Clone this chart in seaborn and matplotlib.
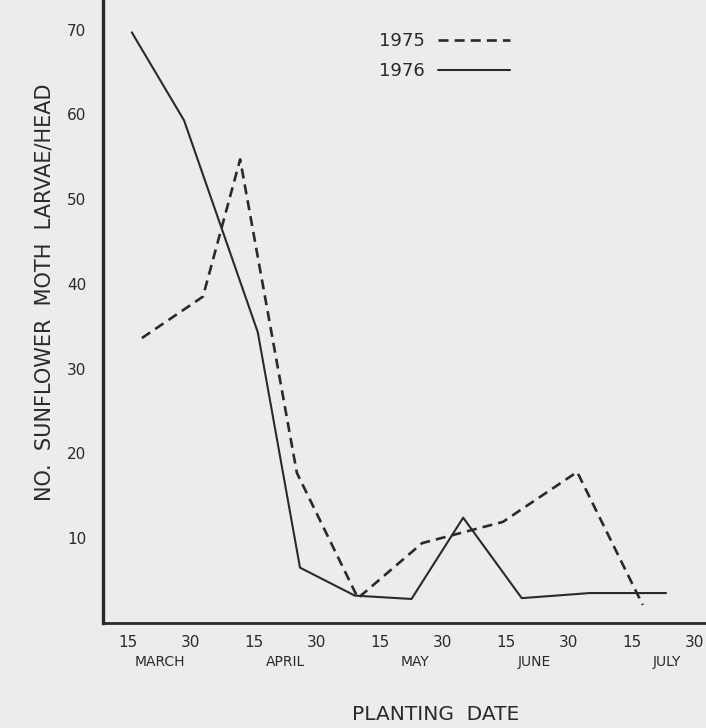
import matplotlib
matplotlib.use("Agg")
import matplotlib.pyplot as plt
import seaborn as sns
import pandas as pd
from matplotlib import transforms

# ---- data (x in half-month steps: 0 = Mar 15, 1 = Mar 30, 2 = Apr 15, ...) ----
tick_labels = ["15", "30", "15", "30", "15", "30", "15", "30", "15", "30"]
months = ["MARCH", "APRIL", "MAY", "JUNE", "JULY"]
month_pos = [0.5, 2.5, 4.55, 6.45, 8.55]

x_1975 = [0.22, 1.19, 1.78, 2.68, 3.65, 4.67, 5.95, 7.13, 8.17]
y_1975 = [33.6, 38.5, 54.7, 17.7, 2.9, 9.4, 11.9, 17.8, 2.1]

x_1976 = [0.06, 0.89, 2.06, 2.73, 3.60, 4.50, 5.32, 6.25, 7.33, 8.54]
y_1976 = [69.7, 59.3, 34.3, 6.5, 3.2, 2.8, 12.4, 2.9, 3.5, 3.5]

df = pd.concat([
    pd.DataFrame({"x": x_1975, "y": y_1975, "year": "1975"}),
    pd.DataFrame({"x": x_1976, "y": y_1976, "year": "1976"}),
], ignore_index=True)

sns.set_style("white")
plt.rcParams["font.family"] = ["DejaVu Sans"]

bg = "#ececea"
ink = "#2a2a2a"

fig = plt.figure(figsize=(7.06, 7.28), dpi=100, facecolor=bg)
W, H = 706, 728
ax = fig.add_axes([103 / W, 1 - 622.7 / H, 1 - 103 / W, 622.7 / H])
ax.set_facecolor(bg)

sns.lineplot(data=df, x="x", y="y", style="year", ax=ax, color=ink,
             sort=False, estimator=None,
             dashes={"1975": (3.8, 2.3), "1976": ""},
             size="year", sizes={"1975": 1.9, "1976": 1.5})

ax.set_xlim((103 - 128) / 63, (706 - 128) / 63)
ax.set_ylim(0, 622.7 / 8.47)

ax.set_xticks(range(len(tick_labels)))
ax.set_xticklabels(tick_labels)
ax.set_yticks([10, 20, 30, 40, 50, 60, 70])
ax.tick_params(axis="both", length=0, colors=ink, labelsize=11)
ax.tick_params(axis="x", pad=9)
ax.tick_params(axis="y", pad=12)

for s in ["top", "right"]:
    ax.spines[s].set_visible(False)
ax.spines["left"].set_linewidth(2.4)
ax.spines["left"].set_color(ink)
ax.spines["bottom"].set_linewidth(2.0)
ax.spines["bottom"].set_color(ink)

trans = transforms.blended_transform_factory(ax.transData, ax.transAxes)
for m, p in zip(months, month_pos):
    ax.text(p, -39 / 622.7, m, transform=trans, ha="center", va="center",
            fontsize=10, color=ink, fontweight="medium")

ax.set_xlabel("")
ax.set_ylabel("")
fig.text(436 / W, 1 - 714 / H, "PLANTING  DATE", ha="center", va="center",
         fontsize=14.5, color=ink)
fig.text(45 / W, 1 - 292 / H, "NO.  SUNFLOWER  MOTH  LARVAE/HEAD", rotation=90,
         ha="center", va="center", fontsize=15, color=ink)

handles, labels = ax.get_legend_handles_labels()
seen = {}
for h, l in zip(handles, labels):
    if l in ("1975", "1976"):
        seen.setdefault(l, h)
leg = ax.legend([seen["1975"], seen["1976"]], ["1975", "1976"],
                markerfirst=False, frameon=False, fontsize=13,
                loc="upper left", bbox_to_anchor=(363 / W, 1 - 16 / H),
                bbox_transform=fig.transFigure, handlelength=4.0,
                handletextpad=0.7, labelspacing=0.65, labelcolor=ink)

fig.savefig("out.png", dpi=100, facecolor=bg)
